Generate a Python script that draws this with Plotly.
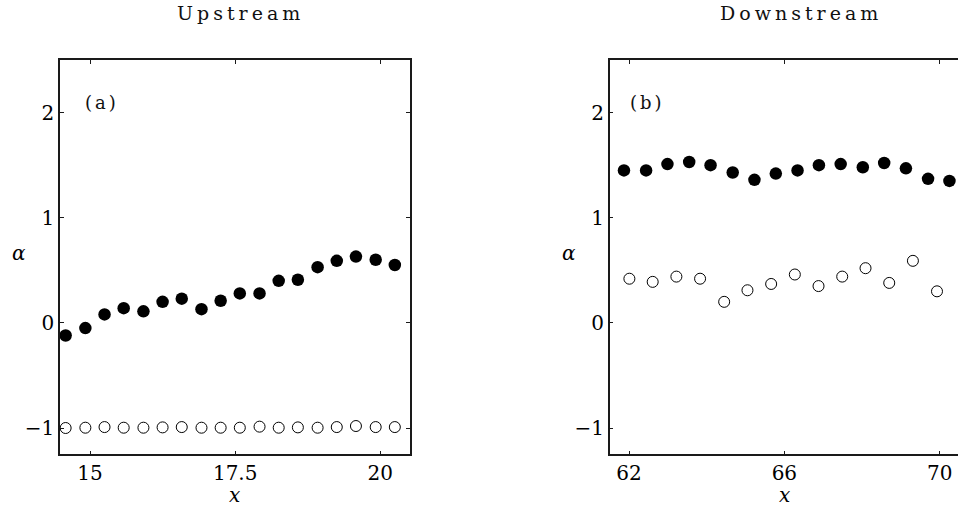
import plotly.graph_objects as go

# ---- data ----
up_x = [14.58, 14.92, 15.25, 15.58, 15.92, 16.25, 16.58, 16.92, 17.25,
        17.58, 17.92, 18.25, 18.58, 18.92, 19.25, 19.58, 19.92, 20.25]
up_filled = [-0.12, -0.05, 0.08, 0.14, 0.11, 0.20, 0.23, 0.13, 0.21,
             0.28, 0.28, 0.40, 0.41, 0.53, 0.59, 0.63, 0.60, 0.55]
up_open = [-1.0, -0.997, -0.991, -0.997, -0.997, -0.994, -0.991, -0.997, -0.997,
           -0.997, -0.987, -0.997, -0.994, -0.997, -0.991, -0.981, -0.991, -0.991]

down_x_filled = [61.87, 62.44, 62.99, 63.55, 64.10, 64.67, 65.23, 65.78,
                 66.34, 66.89, 67.45, 68.02, 68.57, 69.13, 69.70, 70.25]
down_filled = [1.45, 1.45, 1.51, 1.53, 1.50, 1.43, 1.36, 1.42,
               1.45, 1.50, 1.51, 1.48, 1.52, 1.47, 1.37, 1.35]
down_x_open = [62.01, 62.61, 63.22, 63.83, 64.45, 65.05, 65.66,
               66.27, 66.88, 67.49, 68.09, 68.70, 69.31, 69.93]
down_open = [0.42, 0.39, 0.44, 0.42, 0.20, 0.31, 0.37,
             0.46, 0.35, 0.44, 0.52, 0.38, 0.59, 0.30]

y_ticks = [-1, 0, 1, 2]
up_xticks = [15, 17.5, 20]
down_xticks = [62, 66, 70]
titles = ["Upstream", "Downstream"]
panel_labels = ["(a)", "(b)"]

W, H = 958, 509
FONT = "DejaVu Serif"

fig = go.Figure()
filled_style = dict(symbol="circle", size=12.5, color="black", line=dict(width=0))
open_style = dict(symbol="circle-open", size=11, color="black", line=dict(width=1, color="black"))

fig.add_trace(go.Scatter(x=up_x, y=up_filled, mode="markers", marker=filled_style,
                         xaxis="x", yaxis="y", showlegend=False))
fig.add_trace(go.Scatter(x=up_x, y=up_open, mode="markers", marker=open_style,
                         xaxis="x", yaxis="y", showlegend=False))
fig.add_trace(go.Scatter(x=down_x_filled, y=down_filled, mode="markers", marker=filled_style,
                         xaxis="x2", yaxis="y2", showlegend=False))
fig.add_trace(go.Scatter(x=down_x_open, y=down_open, mode="markers", marker=open_style,
                         xaxis="x2", yaxis="y2", showlegend=False))

def px_x(p):
    return p / W

def px_y(p):
    return 1 - p / H

axis_common = dict(showline=True, linecolor="#1a1a1a", linewidth=1.5, mirror="ticks",
                   ticks="inside", ticklen=4, tickwidth=1, tickcolor="#1a1a1a",
                   showgrid=False, zeroline=False,
                   tickfont=dict(family=FONT, size=20, color="black"))

ydom = [px_y(454.3), px_y(60)]
y2_common = dict(axis_common)
y2_common["mirror"] = False
fig.update_layout(
    width=W, height=H,
    margin=dict(l=0, r=0, t=0, b=0),
    paper_bgcolor="white", plot_bgcolor="white",
    font=dict(family=FONT, color="black"),
    xaxis=dict(domain=[px_x(60), px_x(409.7)], range=[14.483, 20.506],
               tickvals=up_xticks, ticktext=["15", "17.5", "20"], anchor="y", **axis_common),
    yaxis=dict(domain=ydom, range=[-1.25, 2.5], tickvals=y_ticks, anchor="x", **axis_common),
    xaxis2=dict(domain=[px_x(609.7), 1.0], range=[61.503, 70.471],
                tickvals=down_xticks, anchor="y2", **axis_common),
    yaxis2=dict(domain=ydom, range=[-1.25, 2.5], tickvals=y_ticks, anchor="x2", **y2_common),
    yaxis3=dict(overlaying="y2", side="right", anchor="x2", range=[-1.25, 2.5],
                tickvals=y_ticks, showticklabels=False, showline=False, showgrid=False,
                zeroline=False, ticks="inside", ticklen=4, tickwidth=1, tickcolor="#1a1a1a"),
)

ann = []
for t, cx in zip(titles, [238, 799]):
    ann.append(dict(text='<span style="letter-spacing:4px">' + t + '</span>',
                    x=px_x(cx + 2), y=px_y(13), xref="paper", yref="paper",
                    showarrow=False, xanchor="center", yanchor="middle",
                    font=dict(family=FONT, size=19, color="#111")))
for t, cx in zip(panel_labels, [100, 646]):
    ann.append(dict(text='<span style="letter-spacing:3px">' + t + '</span>',
                    x=px_x(cx + 1.5), y=px_y(103), xref="paper", yref="paper",
                    showarrow=False, xanchor="center", yanchor="middle",
                    font=dict(family=FONT, size=18, color="#111")))
for cx in [19, 569]:
    ann.append(dict(text="<i>α</i>", x=px_x(cx), y=px_y(253), xref="paper", yref="paper",
                    showarrow=False, xanchor="center", yanchor="middle",
                    font=dict(family=FONT, size=20, color="black")))
for cx in [234, 784]:
    ann.append(dict(text="<i>x</i>", x=px_x(cx), y=0, xref="paper", yref="paper",
                    showarrow=False, xanchor="center", yanchor="bottom",
                    font=dict(family=FONT, size=20, color="black")))
fig.update_layout(annotations=ann)

fig.write_html("out.html")
